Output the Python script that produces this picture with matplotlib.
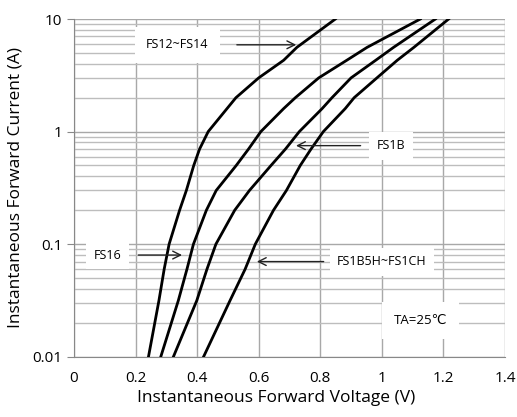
import matplotlib.pyplot as plt
from matplotlib.ticker import LogLocator, FixedLocator, NullFormatter

plt.rcParams['font.family'] = ['Open Sans', 'DejaVu Sans']

# forward current read points (A) for each curve
current = [0.01, 0.0316, 0.06, 0.1, 0.2, 0.3, 0.5, 0.7, 1.0, 1.6, 2.0, 3.0, 4.3, 5.6, 10.0]

# forward voltage (V) at those currents
v_fs12_fs14 = [0.242, 0.276, 0.293, 0.309, 0.343, 0.365, 0.389, 0.408, 0.436, 0.497, 0.526, 0.600, 0.681, 0.724, 0.849]
v_fs16 = [0.282, 0.339, 0.367, 0.388, 0.430, 0.462, 0.527, 0.567, 0.607, 0.681, 0.719, 0.795, 0.886, 0.952, 1.125]
v_fs1b = [0.323, 0.399, 0.432, 0.461, 0.522, 0.570, 0.640, 0.687, 0.732, 0.806, 0.838, 0.900, 0.980, 1.038, 1.174]
v_fs1b5h = [0.421, 0.507, 0.556, 0.589, 0.648, 0.690, 0.735, 0.770, 0.810, 0.881, 0.910, 0.984, 1.050, 1.104, 1.217]

x_ticks = [0, 0.2, 0.4, 0.6, 0.8, 1, 1.2, 1.4]
x_tick_labels = ['0', '0.2', '0.4', '0.6', '0.8', '1', '1.2', '1.4']
y_ticks = [0.01, 0.1, 1, 10]
y_tick_labels = ['0.01', '0.1', '1', '10']

fig = plt.figure(figsize=(5.17, 4.17), dpi=100)
ax = fig.add_axes([0.1431, 0.1446, 0.8337, 0.8098])

ax.set_yscale('log')
ax.set_xlim(0, 1.4)
ax.set_ylim(0.01, 10)

grid_col = '#a8a8a8'
ax.xaxis.set_major_locator(FixedLocator(x_ticks))
ax.set_xticklabels(x_tick_labels)
ax.yaxis.set_major_locator(FixedLocator(y_ticks))
ax.set_yticklabels(y_tick_labels)
ax.yaxis.set_minor_locator(LogLocator(base=10, subs=range(2, 10)))
ax.yaxis.set_minor_formatter(NullFormatter())
ax.grid(True, which='major', axis='both', color=grid_col, lw=1.0)
ax.grid(True, which='minor', axis='y', color='#bdbdbd', lw=1.0)
ax.set_axisbelow(True)

for s in ['top', 'right']:
    ax.spines[s].set_visible(False)
ax.spines['left'].set_color('#888888')
ax.spines['bottom'].set_color('#888888')
ax.tick_params(axis='x', length=0, labelsize=11, pad=10)
ax.tick_params(axis='y', which='major', length=5, color='#888888', labelsize=11)
ax.tick_params(axis='y', which='minor', length=0)

for v in [v_fs12_fs14, v_fs16, v_fs1b, v_fs1b5h]:
    ax.plot(v, current, color='black', lw=2.0, zorder=3, solid_joinstyle='round')

box = dict(boxstyle='square,pad=0.6', fc='white', ec='none')
arrow = dict(arrowstyle='->', color='#222222', lw=1.0, mutation_scale=14)

ax.annotate('', xy=(0.731, 5.9), xytext=(0.52, 5.9), arrowprops=arrow, zorder=4)
ax.text(0.335, 5.9, 'FS12~FS14', fontsize=9, ha='center', va='center', bbox=dict(boxstyle='square,pad=0.9', fc='white', ec='none'), zorder=4)

ax.annotate('', xy=(0.712, 0.75), xytext=(0.94, 0.75), arrowprops=arrow, zorder=4)
ax.text(1.03, 0.75, 'FS1B', fontsize=9, ha='center', va='center', bbox=box, zorder=4)

ax.annotate('', xy=(0.36, 0.08), xytext=(0.2, 0.08), arrowprops=arrow, zorder=4)
ax.text(0.11, 0.08, 'FS16', fontsize=9, ha='center', va='center', bbox=box, zorder=4)

ax.annotate('', xy=(0.585, 0.07), xytext=(0.82, 0.07), arrowprops=arrow, zorder=4)
ax.text(1.0, 0.07, 'FS1B5H~FS1CH', fontsize=9, ha='center', va='center', bbox=box, zorder=4)

ax.text(1.125, 0.021, 'TA=25℃', fontsize=9.5, ha='center', va='center', bbox=dict(boxstyle='square,pad=0.9', fc='white', ec='none'), zorder=4)

ax.set_xlabel('Instantaneous Forward Voltage (V)', fontsize=12.5)
ax.xaxis.set_label_coords(0.469, -0.1)
ax.set_ylabel('Instantaneous Forward Current (A)', fontsize=12.5, labelpad=6)

fig.savefig('out.png', dpi=100)
